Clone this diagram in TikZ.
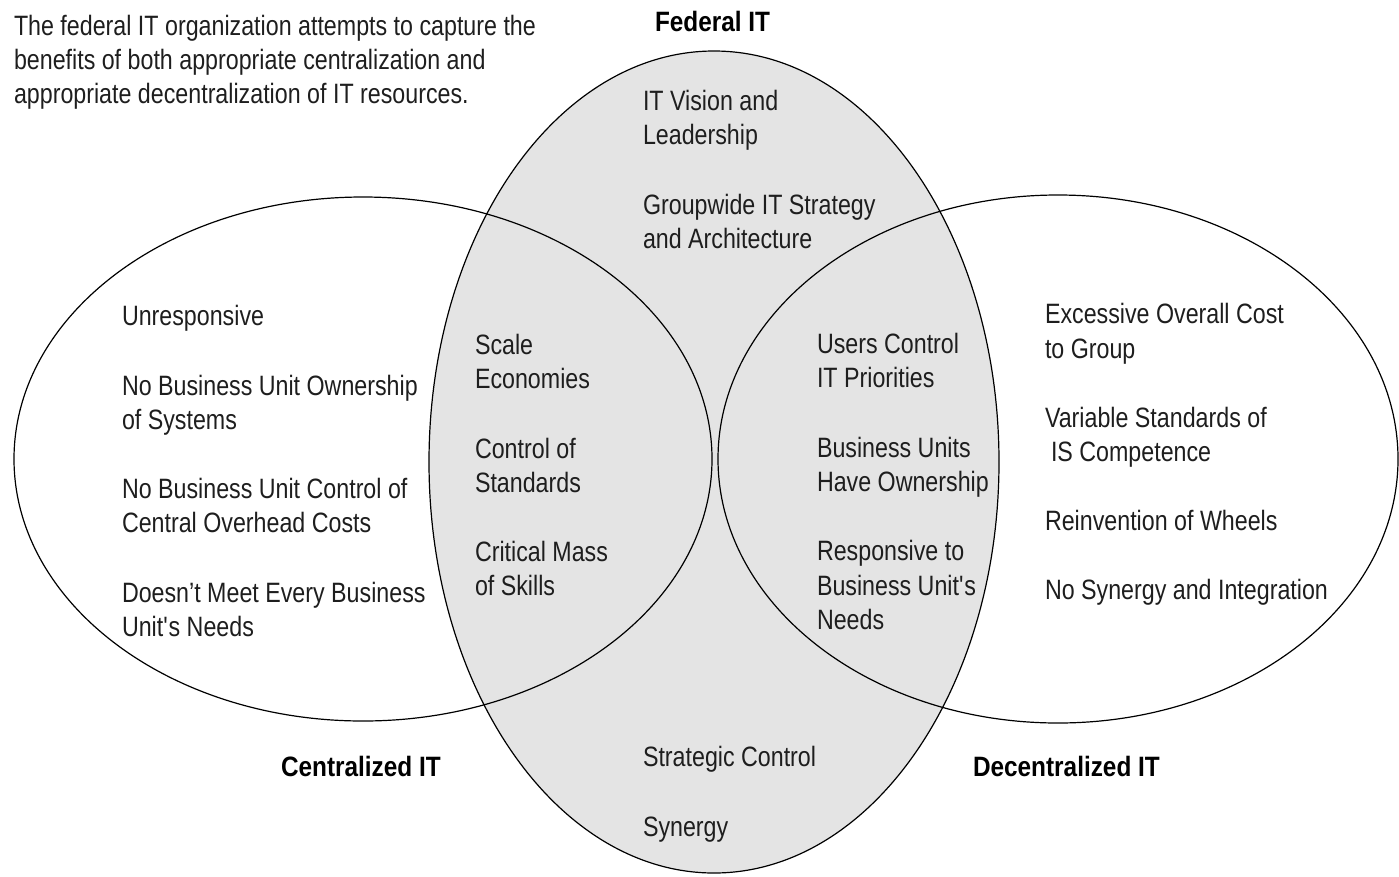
\documentclass[tikz,border=0pt]{standalone}
\usepackage{fontspec}
\setmainfont{Liberation Sans}[FakeStretch=0.83,BoldFeatures={FakeStretch=0.87}]
\definecolor{fedgray}{RGB}{228,228,228}
\definecolor{ink}{RGB}{30,30,30}
\begin{document}
\begin{tikzpicture}[x=1pt,y=-1pt,
  txt/.style={anchor=base west,inner sep=0pt,outer sep=0pt,text=ink,font=\fontsize{28}{34}\selectfont},
  ttl/.style={anchor=base west,inner sep=0pt,outer sep=0pt,text=black,font=\fontsize{28}{34}\selectfont\bfseries},
  ring/.style={draw=black,line width=1.2pt}]
\useasboundingbox (0,0) rectangle (1399,876);
% shapes
\fill[fedgray] (714,462) ellipse [x radius=285pt, y radius=411pt];
\draw[ring] (363,459) ellipse [x radius=349pt, y radius=262pt];
\draw[ring] (1058,459) ellipse [x radius=340pt, y radius=264pt];
\draw[ring] (714,462) ellipse [x radius=285pt, y radius=411pt];
% intro text
\node[txt] (i1) at (14,35) {The federal IT organization attempts to capture the};
\node[txt] (i2) at (14,69) {benefits of both appropriate centralization and};
\node[txt] (i3) at (14,103) {appropriate decentralization of IT resources.};
% titles
\node[ttl] (tf) at (655,31) {Federal IT};
\node[ttl] (tc) at (281,776) {Centralized IT};
\node[ttl] (td) at (973,776) {Decentralized IT};
% federal top
\node[txt] (f1) at (643,110) {IT Vision and};
\node[txt] (f2) at (643,144) {Leadership};
\node[txt] (f3) at (643,214) {Groupwide IT Strategy};
\node[txt] (f4) at (643,248) {and Architecture};
% federal bottom
\node[txt] (f5) at (643,766) {Strategic Control};
\node[txt] (f6) at (643,836) {Synergy};
% centralized
\node[txt] (c1) at (122,325) {Unresponsive};
\node[txt] (c2) at (122,395) {No Business Unit Ownership};
\node[txt] (c3) at (122,429) {of Systems};
\node[txt] (c4) at (122,498) {No Business Unit Control of};
\node[txt] (c5) at (122,532) {Central Overhead Costs};
\node[txt] (c6) at (122,602) {Doesn’t Meet Every Business};
\node[txt] (c7) at (122,636) {Unit\textquotesingle s Needs};
% centralized & federal
\node[txt] (m1) at (475,354) {Scale};
\node[txt] (m2) at (475,388) {Economies};
\node[txt] (m3) at (475,458) {Control of};
\node[txt] (m4) at (475,492) {Standards};
\node[txt] (m5) at (475,561) {Critical Mass};
\node[txt] (m6) at (475,595) {of Skills};
% decentralized & federal
\node[txt] (n1) at (817,353) {Users Control};
\node[txt] (n2) at (817,387) {IT Priorities};
\node[txt] (n3) at (817,457) {Business Units};
\node[txt] (n4) at (817,491) {Have Ownership};
\node[txt] (n5) at (817,560) {Responsive to};
\node[txt] (n6) at (817,595) {Business Unit\textquotesingle s};
\node[txt] (n7) at (817,629) {Needs};
% decentralized
\node[txt] (d1) at (1045,323) {Excessive Overall Cost};
\node[txt] (d2) at (1045,358) {to Group};
\node[txt] (d3) at (1045,427) {Variable Standards of};
\node[txt] (d4) at (1051,461) {IS Competence};
\node[txt] (d5) at (1045,530) {Reinvention of Wheels};
\node[txt] (d6) at (1045,599) {No Synergy and Integration};
\end{tikzpicture}
\end{document}
